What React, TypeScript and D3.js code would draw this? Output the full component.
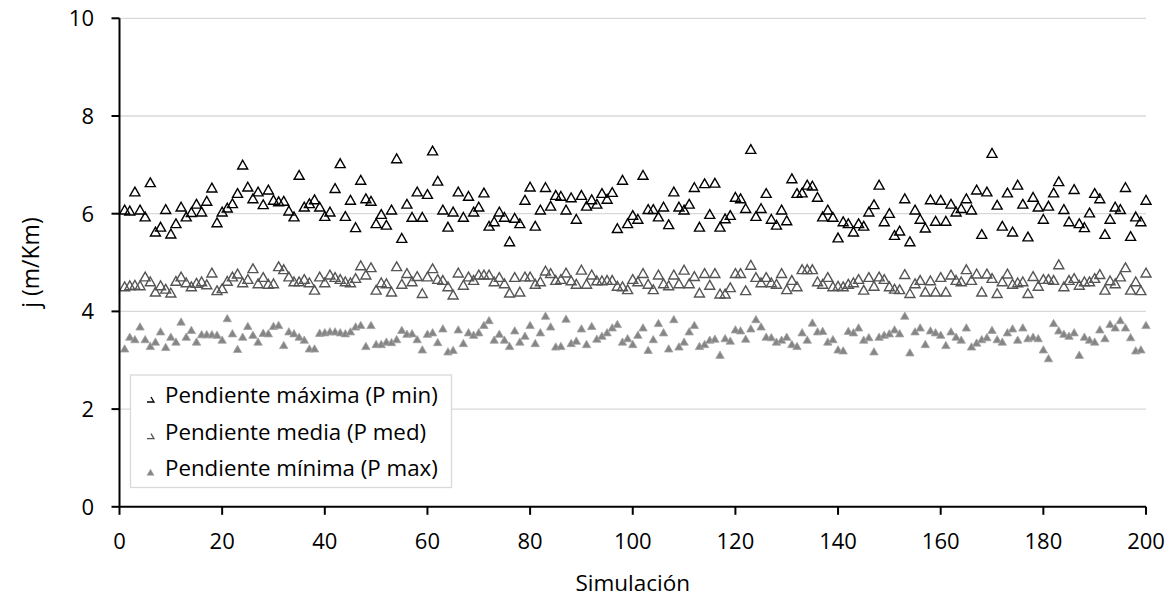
import React from "react";
import * as d3 from "d3";

const pendMaxima: number[] = [
  6.08, 6.06, 6.45, 6.08, 5.94, 6.64, 5.63, 5.73, 6.09, 5.59, 5.8, 6.14, 5.94, 6.03, 6.2, 6.04, 6.26, 6.53, 5.82, 6.04,
  6.12, 6.21, 6.42, 7.0, 6.55, 6.31, 6.45, 6.19, 6.49, 6.28, 6.25, 6.26, 6.06, 5.94, 6.79, 6.14, 6.21, 6.29, 6.14, 5.95,
  6.04, 6.52, 7.03, 5.95, 6.28, 5.72, 6.69, 6.31, 6.26, 5.8, 5.99, 5.77, 6.08, 7.13, 5.5, 6.2, 5.93, 6.45, 5.93, 6.4,
  7.29, 6.67, 6.08, 5.73, 6.04, 6.45, 5.93, 6.36, 6.04, 6.14, 6.43, 5.75, 5.84, 6.04, 5.93, 5.43, 5.91, 5.8, 6.28, 6.55,
  5.75, 6.08, 6.54, 6.16, 6.38, 6.36, 6.08, 6.33, 5.89, 6.38, 6.16, 6.29, 6.2, 6.42, 6.3, 6.44, 5.7, 6.69, 5.8, 5.97,
  5.89, 6.79, 6.09, 6.09, 5.94, 6.14, 5.78, 6.45, 6.14, 6.08, 6.2, 6.54, 5.73, 6.62, 5.99, 6.63, 5.73, 5.9, 5.97, 6.34,
  6.31, 6.11, 7.32, 5.95, 6.11, 6.42, 5.89, 5.77, 6.08, 5.86, 6.72, 6.42, 6.43, 6.59, 6.57, 6.34, 5.94, 6.08, 5.93, 5.51,
  5.84, 5.8, 5.63, 5.8, 5.75, 6.04, 6.19, 6.59, 5.84, 6.01, 5.56, 5.65, 6.31, 5.43, 6.08, 5.89, 5.71, 6.29, 5.85, 6.28,
  5.85, 6.2, 6.04, 6.11, 6.31, 6.08, 6.49, 5.58, 6.45, 7.24, 6.18, 5.75, 6.43, 5.63, 6.59, 6.2, 5.53, 6.34, 6.14, 5.89,
  6.16, 6.43, 6.66, 6.09, 5.84, 6.5, 5.8, 5.72, 6.02, 6.42, 6.31, 5.58, 5.89, 6.14, 6.09, 6.54, 5.54, 5.94, 5.84, 6.28,
];

const pendMedia: number[] = [
  4.51, 4.53, 4.54, 4.53, 4.71, 4.61, 4.4, 4.53, 4.46, 4.38, 4.62, 4.71, 4.59, 4.51, 4.58, 4.61, 4.55, 4.79, 4.43, 4.47,
  4.62, 4.71, 4.77, 4.59, 4.66, 4.88, 4.57, 4.7, 4.56, 4.57, 4.92, 4.86, 4.71, 4.61, 4.61, 4.66, 4.59, 4.44, 4.71, 4.59,
  4.75, 4.7, 4.66, 4.61, 4.59, 4.68, 4.94, 4.75, 4.9, 4.44, 4.59, 4.57, 4.4, 4.92, 4.56, 4.78, 4.61, 4.72, 4.37, 4.71,
  4.88, 4.66, 4.64, 4.51, 4.34, 4.79, 4.54, 4.71, 4.64, 4.75, 4.75, 4.75, 4.61, 4.7, 4.57, 4.38, 4.7, 4.4, 4.71, 4.71,
  4.56, 4.61, 4.83, 4.78, 4.64, 4.66, 4.79, 4.63, 4.56, 4.85, 4.56, 4.75, 4.63, 4.63, 4.64, 4.64, 4.52, 4.51, 4.45, 4.66,
  4.61, 4.78, 4.56, 4.45, 4.75, 4.57, 4.53, 4.75, 4.57, 4.85, 4.57, 4.72, 4.38, 4.78, 4.54, 4.78, 4.36, 4.36, 4.49, 4.78,
  4.78, 4.43, 4.95, 4.7, 4.59, 4.7, 4.59, 4.56, 4.78, 4.45, 4.64, 4.51, 4.86, 4.86, 4.86, 4.61, 4.56, 4.7, 4.51, 4.52,
  4.51, 4.56, 4.59, 4.66, 4.44, 4.7, 4.52, 4.71, 4.66, 4.51, 4.46, 4.45, 4.76, 4.37, 4.57, 4.64, 4.4, 4.63, 4.4, 4.7,
  4.4, 4.75, 4.64, 4.61, 4.86, 4.64, 4.77, 4.4, 4.77, 4.68, 4.37, 4.61, 4.77, 4.56, 4.59, 4.61, 4.37, 4.72, 4.52, 4.66,
  4.66, 4.64, 4.96, 4.51, 4.64, 4.68, 4.54, 4.61, 4.61, 4.68, 4.76, 4.44, 4.63, 4.57, 4.71, 4.9, 4.44, 4.61, 4.43, 4.79,
];

const pendMinima: number[] = [
  3.24, 3.48, 3.43, 3.69, 3.43, 3.29, 3.38, 3.59, 3.27, 3.48, 3.38, 3.79, 3.48, 3.62, 3.38, 3.53, 3.53, 3.53, 3.52, 3.42,
  3.86, 3.55, 3.23, 3.48, 3.7, 3.52, 3.38, 3.56, 3.55, 3.7, 3.72, 3.31, 3.59, 3.55, 3.48, 3.42, 3.24, 3.24, 3.56, 3.57,
  3.59, 3.59, 3.57, 3.55, 3.59, 3.69, 3.72, 3.29, 3.72, 3.33, 3.33, 3.38, 3.37, 3.43, 3.62, 3.54, 3.55, 3.43, 3.22, 3.54,
  3.57, 3.37, 3.65, 3.18, 3.21, 3.63, 3.35, 3.57, 3.52, 3.57, 3.72, 3.82, 3.42, 3.54, 3.42, 3.29, 3.61, 3.38, 3.5, 3.72,
  3.35, 3.57, 3.91, 3.69, 3.28, 3.29, 3.85, 3.35, 3.4, 3.65, 3.33, 3.7, 3.44, 3.5, 3.57, 3.67, 3.74, 3.38, 3.45, 3.33,
  3.52, 3.67, 3.21, 3.43, 3.76, 3.57, 3.24, 3.84, 3.28, 3.38, 3.59, 3.72, 3.29, 3.33, 3.42, 3.44, 3.11, 3.45, 3.4, 3.63,
  3.61, 3.44, 3.65, 3.84, 3.69, 3.48, 3.47, 3.38, 3.42, 3.48, 3.33, 3.29, 3.57, 3.42, 3.77, 3.59, 3.6, 3.38, 3.43, 3.22,
  3.2, 3.6, 3.57, 3.67, 3.42, 3.47, 3.18, 3.48, 3.52, 3.55, 3.63, 3.55, 3.91, 3.16, 3.59, 3.67, 3.33, 3.61, 3.57, 3.52,
  3.31, 3.59, 3.48, 3.42, 3.67, 3.28, 3.36, 3.43, 3.47, 3.62, 3.43, 3.38, 3.57, 3.65, 3.42, 3.67, 3.45, 3.48, 3.45, 3.22,
  3.04, 3.76, 3.61, 3.54, 3.5, 3.57, 3.11, 3.48, 3.42, 3.38, 3.63, 3.45, 3.74, 3.67, 3.82, 3.67, 3.47, 3.2, 3.22, 3.72,
];

const xTicks: number[] = [0, 20, 40, 60, 80, 100, 120, 140, 160, 180, 200];
const yTicks: number[] = [0, 2, 4, 6, 8, 10];
const seriesNames: string[] = [
  "Pendiente máxima (P min)",
  "Pendiente media (P med)",
  "Pendiente mínima (P max)",
];
const xTitle = "Simulación";
const yTitle = "j (m/Km)";

const FONT = "'Open Sans', sans-serif";

export default function App() {
  const W = 1172;
  const H = 600;
  const left = 119.5;
  const right = 1146;
  const top = 18.3;
  const bottom = 506.8;

  const x = d3.scaleLinear().domain([0, 200]).range([left, right]);
  const y = d3.scaleLinear().domain([0, 10]).range([bottom, top]);

  const tri = "M0,-4.6L5,4.2L-5,4.2Z";
  const triSmall = "M0,-3.8L4.2,3.5L-4.2,3.5Z";

  const series = [
    { data: pendMaxima, fill: "none", stroke: "#000000", sw: 1.4, path: tri },
    { data: pendMedia, fill: "none", stroke: "#555555", sw: 1.4, path: tri },
    { data: pendMinima, fill: "#858585", stroke: "#a3a3a3", sw: 0.8, path: triSmall },
  ];

  const legX = 130.5;
  const legY = 375;
  const legW = 321;
  const legH = 112.5;
  const rowY = [395, 431.7, 468.3];

  return (
    <svg
      width={W}
      height={H}
      style={{ position: "absolute", left: 0, top: 0, background: "#fff" }}
      fontFamily={FONT}
    >
      <rect x={0} y={0} width={W} height={H} fill="#fff" />
      {yTicks.filter((t) => t > 0).map((t) => (
        <line key={"g" + t} x1={left} x2={right} y1={y(t)} y2={y(t)} stroke="#d9d9d9" strokeWidth={1.3} />
      ))}

      {series.map((s, si) => (
        <g key={"s" + si}>
          {s.data.map((v, i) => (
            <path
              key={i}
              d={s.path}
              transform={`translate(${x(i + 1)},${y(v)})`}
              fill={s.fill}
              stroke={s.stroke}
              strokeWidth={s.sw}
            />
          ))}
        </g>
      ))}

      <line x1={left} x2={left} y1={top} y2={bottom} stroke="#000" strokeWidth={2} />
      <line x1={left} x2={right} y1={bottom} y2={bottom} stroke="#000" strokeWidth={2} />
      {yTicks.map((t) => (
        <g key={"yt" + t}>
          <line x1={left - 8} x2={left} y1={y(t)} y2={y(t)} stroke="#000" strokeWidth={2} />
          <text x={94} y={y(t)} dy="0.36em" textAnchor="end" fontSize={22} fill="#000">
            {t}
          </text>
        </g>
      ))}
      {xTicks.map((t) => (
        <g key={"xt" + t}>
          <line x1={x(t)} x2={x(t)} y1={bottom} y2={bottom + 8} stroke="#000" strokeWidth={2} />
          <text x={x(t)} y={541} dy="0.36em" textAnchor="middle" fontSize={22} fill="#000">
            {t}
          </text>
        </g>
      ))}

      <text x={(left + right) / 2} y={583} dy="0.36em" textAnchor="middle" fontSize={22.5} fill="#000">
        {xTitle}
      </text>
      <text
        transform={`translate(31,${(top + bottom) / 2}) rotate(-90)`}
        dy="0.36em"
        textAnchor="middle"
        fontSize={23}
        fill="#000"
      >
        {yTitle}
      </text>

      <rect x={legX} y={legY} width={legW} height={legH} fill="#fff" stroke="#d9d9d9" strokeWidth={1.3} />
      <path
        d={`M151,${rowY[0] + 2}L154,${rowY[0] + 7}L147,${rowY[0] + 7}`}
        fill="none"
        stroke="#000"
        strokeWidth={1.3}
      />
      <path
        d={`M151,${rowY[1] + 2}L154,${rowY[1] + 7}L147,${rowY[1] + 7}`}
        fill="none"
        stroke="#555"
        strokeWidth={1.3}
      />
      <path d={`M150.5,${rowY[2] + 1}L154,${rowY[2] + 7}L147,${rowY[2] + 7}Z`} fill="#858585" stroke="#a3a3a3" strokeWidth={0.6} />
      {seriesNames.map((n, i) => (
        <text key={n} x={165} y={rowY[i]} dy="0.36em" fontSize={22.3} fill="#000">
          {n}
        </text>
      ))}
    </svg>
  );
}
